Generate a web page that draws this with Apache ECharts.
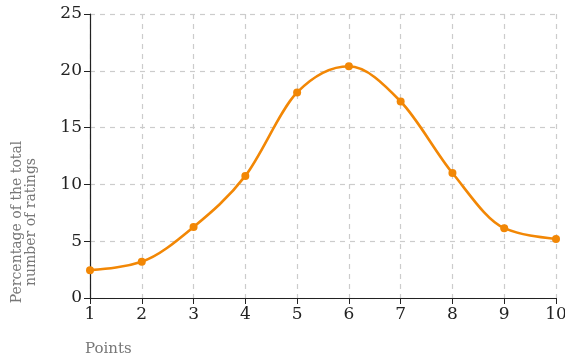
<!DOCTYPE html>
<html><head><meta charset="utf-8">
<script src="https://cdn.jsdelivr.net/npm/echarts@6/dist/echarts.min.js"></script>
<style>html,body{margin:0;padding:0;background:#fff}#c{width:565px;height:359px}</style>
</head><body><div id="c"></div>
<script>
const points = [1, 2, 3, 4, 5, 6, 7, 8, 9, 10];
const percentages = [2.45, 3.2, 6.25, 10.75, 18.1, 20.4, 17.3, 11.0, 6.15, 5.2];
const yTicks = [0, 5, 10, 15, 20, 25];
const xAxisName = 'Points';
const yAxisNameLines = ['Percentage of the total', 'number of ratings'];

const font = 'DejaVu Serif';
const lineColor = '#f28705';
const seriesData = points.map((p, i) => [p, percentages[i]]);

// monotone-x cubic path through the points (pixel coords come from the axes)
function monotonePath(pts) {
  const n = pts.length;
  const sign = v => (v < 0 ? -1 : 1);
  const t = new Array(n).fill(0);
  for (let i = 1; i < n - 1; i++) {
    const [x0, y0] = pts[i - 1], [x1, y1] = pts[i], [x2, y2] = pts[i + 1];
    const h0 = x1 - x0, h1 = x2 - x1;
    const s0 = (y1 - y0) / h0, s1 = (y2 - y1) / h1;
    const p = (s0 * h1 + s1 * h0) / (h0 + h1);
    t[i] = (sign(s0) + sign(s1)) * Math.min(Math.abs(s0), Math.abs(s1), 0.5 * Math.abs(p)) || 0;
  }
  {
    const h = pts[1][0] - pts[0][0];
    t[0] = (3 * (pts[1][1] - pts[0][1]) / h - t[1]) / 2;
    const k = n - 1, hk = pts[k][0] - pts[k - 1][0];
    t[k] = (3 * (pts[k][1] - pts[k - 1][1]) / hk - t[k - 1]) / 2;
  }
  let d = 'M' + pts[0][0] + ',' + pts[0][1];
  for (let i = 0; i < n - 1; i++) {
    const [x0, y0] = pts[i], [x1, y1] = pts[i + 1];
    const dx = (x1 - x0) / 3;
    d += ' C' + (x0 + dx) + ',' + (y0 + dx * t[i]) + ' ' + (x1 - dx) + ',' + (y1 - dx * t[i + 1]) + ' ' + x1 + ',' + y1;
  }
  return d;
}

const chart = echarts.init(document.getElementById('c'));
chart.setOption({
  animation: false,
  grid: {left: 90, right: 9, top: 14, bottom: 61, containLabel: false, outerBoundsMode: 'none'},
  xAxis: {
    type: 'value', min: 1, max: 10, interval: 1,
    axisLine: {lineStyle: {color: '#222', width: 1.2}},
    axisTick: {length: 6, lineStyle: {color: '#222'}},
    axisLabel: {fontFamily: font, fontSize: 17, color: '#222', margin: 8},
    splitLine: {show: true, lineStyle: {color: '#ccc', type: [5, 5], width: 1.2}},
    name: xAxisName, nameLocation: 'start', nameGap: 0,
    nameTextStyle: {fontFamily: font, fontSize: 15, color: '#777', align: 'left', verticalAlign: 'top', padding: [44, 0, 0, -5]}
  },
  yAxis: {
    type: 'value', min: yTicks[0], max: yTicks[yTicks.length - 1], interval: 5,
    axisLine: {show: true, lineStyle: {color: '#222', width: 1.2}},
    axisTick: {show: true, length: 6, lineStyle: {color: '#222'}},
    axisLabel: {fontFamily: font, fontSize: 17, color: '#222', margin: 8},
    splitLine: {show: true, lineStyle: {color: '#ccc', type: [5, 5], width: 1.2}}
  },
  graphic: [{
    type: 'text', rotation: Math.PI / 2, x: 24, y: 222,
    style: {text: yAxisNameLines.join('\n'), font: '14px "DejaVu Serif"', fill: '#777',
      align: 'center', verticalAlign: 'middle', lineHeight: 14}
  }],
  series: [{
    type: 'custom',
    data: seriesData,
    renderItem: function (params, api) {
      if (params.dataIndex !== 0) return null;
      const px = seriesData.map(d => api.coord(d));
      return {
        type: 'path',
        shape: {pathData: monotonePath(px)},
        style: {fill: null, stroke: lineColor, lineWidth: 2.6}
      };
    },
    z: 2
  }, {
    type: 'line',
    data: seriesData,
    symbol: 'circle', symbolSize: 8,
    lineStyle: {width: 0, opacity: 0},
    itemStyle: {color: lineColor},
    z: 3
  }]
});
</script></body></html>
